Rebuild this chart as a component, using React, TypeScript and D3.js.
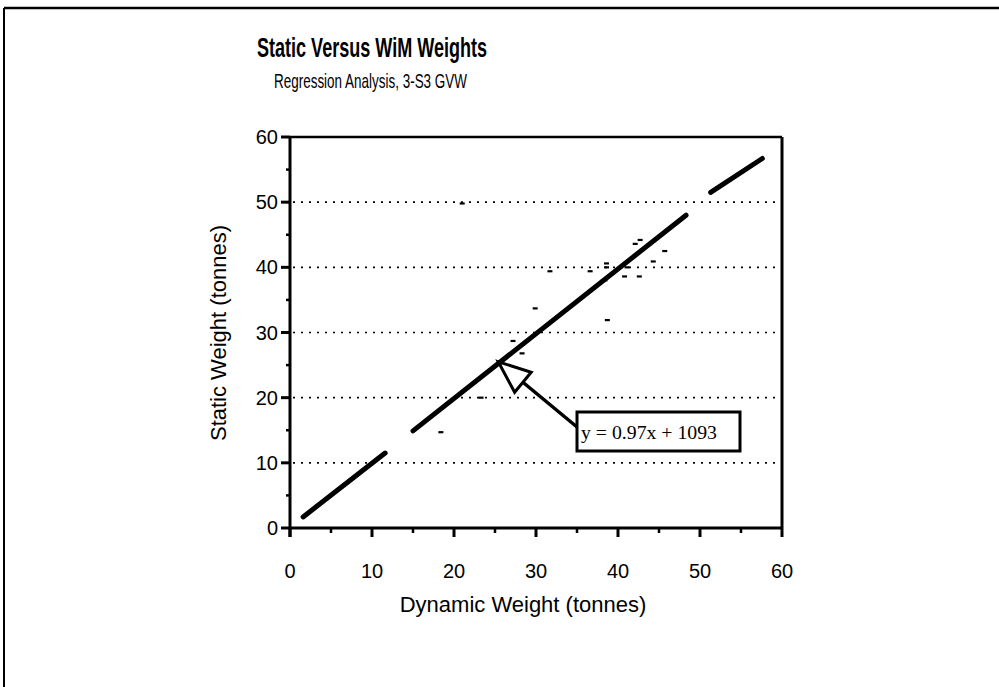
import React, { useEffect } from "react";
import * as d3 from "d3";

const xTicks = [0, 10, 20, 30, 40, 50, 60];
const yTicks = [0, 10, 20, 30, 40, 50, 60];
const minorTicks = [5, 15, 25, 35, 45, 55];
const gridValues = [10, 20, 30, 40, 50];

// observed points (dynamic, static) in tonnes
const dynamicW = [18.4, 23.3, 27.2, 28.3, 29.9, 31.7, 36.6, 38.6, 38.6, 38.7, 38.4, 42.7, 42.1, 45.7, 44.3, 41.1, 40.8, 42.6, 38.2, 21.0];
const staticW = [14.7, 20.0, 28.7, 26.8, 33.7, 39.4, 39.4, 40.6, 40.0, 31.9, 38.0, 44.2, 43.6, 42.5, 40.9, 40.0, 38.6, 38.6, 38.0, 49.8];

// regression line segments (as printed, broken)
const segStartX = [1.6, 15.0, 51.3];
const segStartY = [1.7, 14.9, 51.5];
const segEndX = [11.6, 48.3, 57.6];
const segEndY = [11.5, 48.0, 56.7];

const title = "Static Versus WiM Weights";
const subtitle = "Regression Analysis, 3-S3 GVW";
const xTitle = "Dynamic Weight (tonnes)";
const yTitle = "Static Weight (tonnes)";
const equation = "y = 0.97x + 1093";
const arrowTip = [25.4, 25.5];

export default function App() {
  useEffect(() => {
    document.body.style.margin = "0";
  }, []);
  const W = 999, H = 687;
  const left = 290, right = 782, top = 137, bottom = 528;
  const x = d3.scaleLinear().domain([0, 60]).range([left, right]);
  const y = d3.scaleLinear().domain([0, 60]).range([bottom, top]);
  const font = "Arial, 'Liberation Sans', Helvetica, sans-serif";
  const narrow = "'Liberation Sans Narrow', 'Arial Narrow', Arial, 'Liberation Sans', sans-serif";

  // arrow geometry
  const tx = x(arrowTip[0]);
  const ty = y(arrowTip[1]);
  const bx = 577, by = 427; // tail at annotation box
  const ang = Math.atan2(by - ty, bx - tx);
  const headLen = 32, headHalf = 13;
  const baseCx = tx + Math.cos(ang) * headLen;
  const baseCy = ty + Math.sin(ang) * headLen;
  const px = -Math.sin(ang), py = Math.cos(ang);
  const p1 = [baseCx + px * headHalf, baseCy + py * headHalf];
  const p2 = [baseCx - px * headHalf, baseCy - py * headHalf];

  return (
    <svg width={W} height={H} style={{ display: "block", position: "absolute", left: 0, top: 0, background: "#fff" }}>
      <rect x={0} y={0} width={W} height={H} fill="#fff" />
      {/* outer frame */}
      <line x1={4} y1={8} x2={W} y2={8} stroke="#000" strokeWidth={2.5} />
      <line x1={4} y1={8} x2={4} y2={H} stroke="#000" strokeWidth={2} />

      <text x={257} y={57} fontFamily={narrow} fontWeight="bold" fontSize={27} textLength={230} lengthAdjust="spacingAndGlyphs">{title}</text>
      <text x={274} y={88} fontFamily={narrow} fontSize={21} textLength={193} lengthAdjust="spacingAndGlyphs">{subtitle}</text>

      {/* grid */}
      {gridValues.map((v) => (
        <line key={"g" + v} x1={left + 3} x2={right} y1={y(v)} y2={y(v)} stroke="#000" strokeWidth={1.6} strokeDasharray="2,6" />
      ))}

      {/* plot box */}
      <line x1={left} x2={right} y1={top} y2={top} stroke="#000" strokeWidth={2.5} />
      <line x1={right} x2={right} y1={top} y2={bottom} stroke="#000" strokeWidth={3} />
      <line x1={left} x2={right} y1={bottom} y2={bottom} stroke="#000" strokeWidth={3} />
      <line x1={left} x2={left} y1={top} y2={bottom + 9} stroke="#000" strokeWidth={3} />

      {/* y ticks */}
      {yTicks.map((v) => (
        <g key={"yt" + v}>
          <line x1={left - 9} x2={left} y1={y(v)} y2={y(v)} stroke="#000" strokeWidth={3} />
          <text x={278} y={y(v) + 7} textAnchor="end" fontFamily={font} fontSize={20}>{v}</text>
        </g>
      ))}
      {minorTicks.map((v) => (
        <line key={"ym" + v} x1={left - 4} x2={left} y1={y(v)} y2={y(v)} stroke="#000" strokeWidth={2.5} />
      ))}
      {/* x ticks */}
      {xTicks.map((v) => (
        <g key={"xt" + v}>
          <line x1={x(v)} x2={x(v)} y1={bottom} y2={bottom + 9} stroke="#000" strokeWidth={3} />
          <text x={x(v)} y={578} textAnchor="middle" fontFamily={font} fontSize={20}>{v}</text>
        </g>
      ))}
      {minorTicks.map((v) => (
        <line key={"xm" + v} x1={x(v)} x2={x(v)} y1={bottom} y2={bottom + 5} stroke="#000" strokeWidth={2.5} />
      ))}

      <text x={523} y={612} textAnchor="middle" fontFamily={font} fontSize={22}>{xTitle}</text>
      <text transform={`translate(226, 333) rotate(-90)`} textAnchor="middle" fontFamily={font} fontSize={22}>{yTitle}</text>

      {/* points */}
      {dynamicW.map((d, i) => (
        <line key={"p" + i} x1={x(d) - 2.5} x2={x(d) + 2.5} y1={y(staticW[i])} y2={y(staticW[i])} stroke="#000" strokeWidth={2.2} />
      ))}

      {/* regression line */}
      {segStartX.map((s, i) => (
        <line key={"s" + i} x1={x(s)} y1={y(segStartY[i])} x2={x(segEndX[i])} y2={y(segEndY[i])} stroke="#000" strokeWidth={5} strokeLinecap="round" />
      ))}

      {/* arrow */}
      <line x1={baseCx} y1={baseCy} x2={bx} y2={by} stroke="#000" strokeWidth={3.5} />
      <polygon points={`${tx},${ty} ${p1[0]},${p1[1]} ${p2[0]},${p2[1]}`} fill="#fff" stroke="#000" strokeWidth={3} strokeLinejoin="miter" />

      {/* annotation box */}
      <rect x={577} y={412} width={163} height={39} fill="#fff" stroke="#000" strokeWidth={3} />
      <text x={581} y={439} fontFamily="'Liberation Serif', 'Times New Roman', serif" fontSize={19} textLength={136} lengthAdjust="spacingAndGlyphs">{equation}</text>
    </svg>
  );
}
